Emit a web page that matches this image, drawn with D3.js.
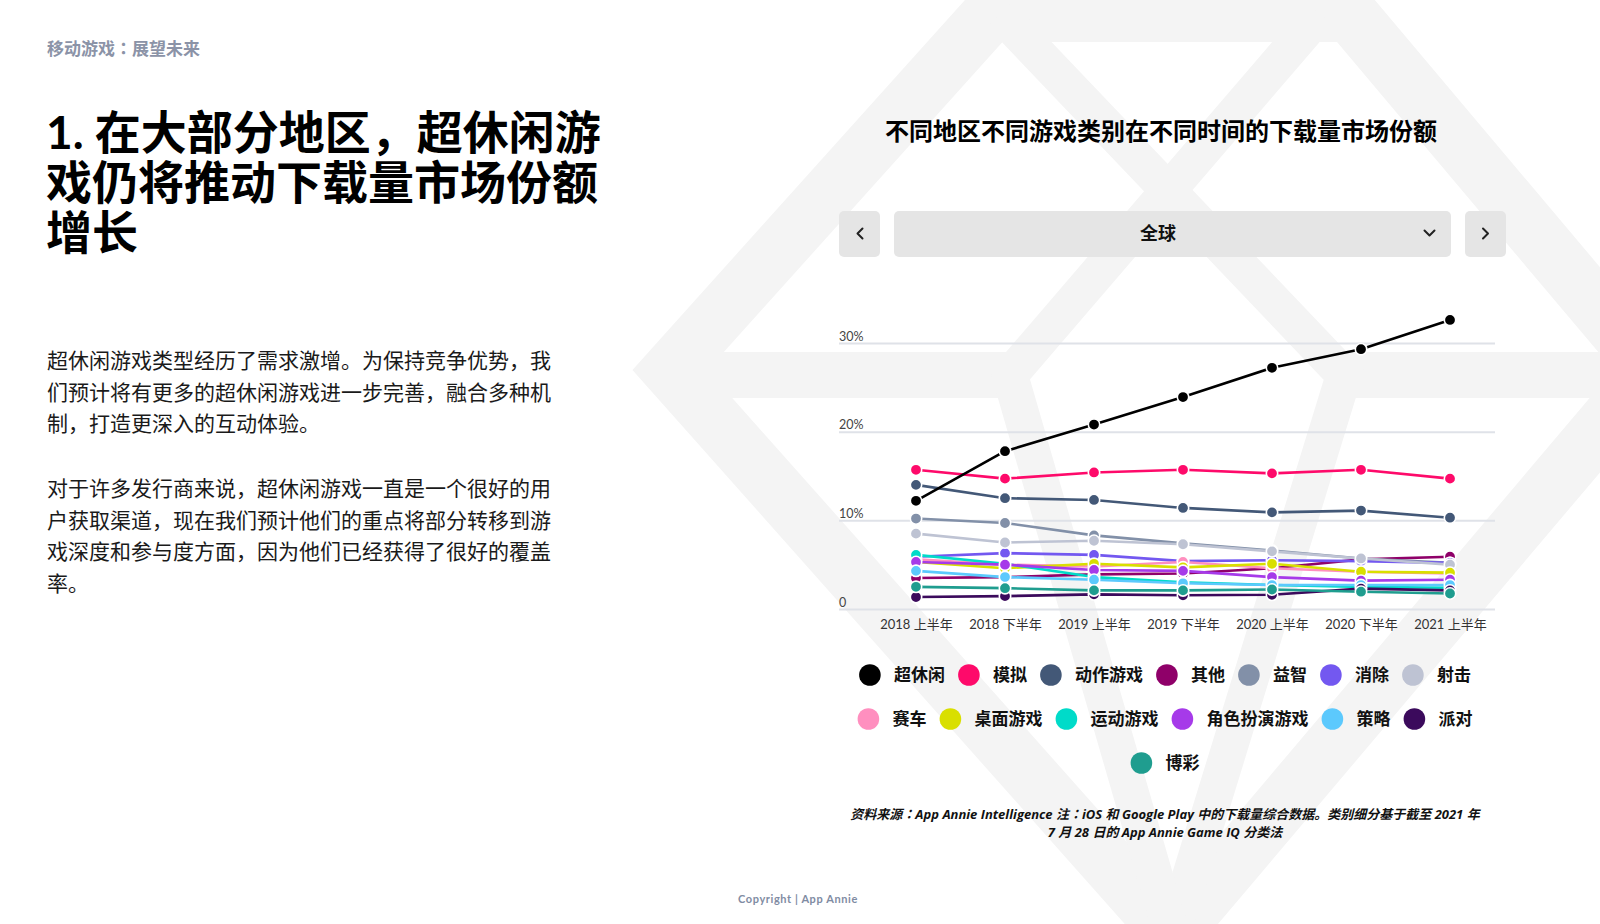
<!DOCTYPE html>
<html><head><meta charset="utf-8">
<script src="https://cdn.jsdelivr.net/npm/d3@7"></script>
<style>
html,body{margin:0;padding:0;background:#fff;}
svg{display:block;}
text{font-family:"Lato","Noto Sans CJK SC",sans-serif;}
tspan.pk{font-family:"Noto Sans CJK TC",sans-serif;}
</style></head><body>
<svg id="c" width="1600" height="924"></svg>
<script>
// ---------- data ----------
const periods = ["2018 上半年","2018 下半年","2019 上半年","2019 下半年","2020 上半年","2020 下半年","2021 上半年"];
const seriesNames = ["超休闲","模拟","动作游戏","其他","益智","消除","射击","赛车","桌面游戏","运动游戏","角色扮演游戏","策略","派对","博彩"];
const seriesColors = ["#000000","#fe0a6a","#435877","#8f0069","#8290a8","#7358f0","#bec3d3","#ff8fbf","#d9df00","#00dbc9","#a63ae9","#5cc9fd","#3b0a5c","#1f9d8f"];
const hyperCasual = [12.2, 17.8, 20.8, 23.9, 27.2, 29.3, 32.6];
const simulation  = [15.7, 14.7, 15.4, 15.7, 15.3, 15.7, 14.7];
const action      = [14.0, 12.5, 12.3, 11.4, 10.9, 11.1, 10.3];
const other       = [3.5, 3.6, 3.9, 4.0, 4.6, 5.6, 5.9];
const puzzle      = [10.2, 9.7, 8.3, 7.4, 6.6, 5.7, 5.2];
const match       = [5.9, 6.3, 6.1, 5.4, 5.5, 5.4, 5.2];
const shooter     = [8.5, 7.5, 7.7, 7.3, 6.5, 5.7, 5.0];
const racing      = [5.6, 5.0, 4.8, 5.3, 4.6, 4.2, 4.0];
const tabletop    = [5.3, 4.6, 5.1, 4.7, 5.1, 4.2, 4.1];
const sports      = [6.1, 5.1, 3.6, 3.0, 2.7, 2.5, 2.4];
const rpg         = [5.3, 5.0, 4.4, 4.3, 3.6, 3.2, 3.3];
const strategy    = [4.3, 3.6, 3.3, 2.9, 2.7, 2.7, 2.7];
const party       = [1.35, 1.45, 1.65, 1.55, 1.6, 2.3, 2.1];
const casino      = [2.5, 2.35, 2.1, 2.1, 2.2, 1.95, 1.75];
const seriesValues = [hyperCasual, simulation, action, other, puzzle, match, shooter, racing, tabletop, sports, rpg, strategy, party, casino];
const yTicks = [0, 10, 20, 30];
const yTickLabels = ["0", "10%", "20%", "30%"];
const legendRows = [[0,1,2,3,4,5,6],[7,8,9,10,11,12],[13]];

const headerText = "移动游戏：展望未来";
const titleLines = ["1. 在大部分地区，超休闲游","戏仍将推动下载量市场份额","增长"];
const para1 = ["超休闲游戏类型经历了需求激增。为保持竞争优势，我","们预计将有更多的超休闲游戏进一步完善，融合多种机","制，打造更深入的互动体验。"];
const para2 = ["对于许多发行商来说，超休闲游戏一直是一个很好的用","户获取渠道，现在我们预计他们的重点将部分转移到游","戏深度和参与度方面，因为他们已经获得了很好的覆盖","率。"];
const chartTitle = "不同地区不同游戏类别在不同时间的下载量市场份额";
const regionLabel = "全球";
const footLines = ["资料来源：App Annie Intelligence 注：iOS 和 Google Play 中的下载量综合数据。类别细分基于截至 2021 年","7 月 28 日的 App Annie Game IQ 分类法"];
const copyright = "Copyright | App Annie";

// ---------- helpers ----------
// full-width ： is set in a CJK face whose glyph sits in the middle of its cell
function punctText(textSel, str){
  textSel.text(null);
  str.split(/(：)/).forEach(p=>{
    if (p === "") return;
    const ts = textSel.append("tspan").text(p);
    if (p === "：") ts.attr("class","pk");
  });
}

// ---------- drawing ----------
const svg = d3.select("#c");
const L = d3.line();

// watermark gem
const wm = svg.append("g").attr("fill","none").attr("stroke","#f4f4f4").attr("stroke-linejoin","miter").attr("stroke-miterlimit",10);
wm.append("path").attr("d", L([[990,14],[1350,14],[1650,370],[1172,935],[670,370]]) + "Z").attr("stroke-width",56);
wm.append("path").attr("d", L([[680,375],[1013,375]])).attr("stroke-width",46);
wm.append("path").attr("d", L([[1340,375],[1640,375]])).attr("stroke-width",46);
wm.append("path").attr("d", L([[1000,14],[1344,375],[1172,935]])).attr("stroke-width",36);
wm.append("path").attr("d", L([[1320,14],[1010,375],[1172,935]])).attr("stroke-width",36);

// left text
svg.append("text").attr("x",47).attr("y",54.5).attr("font-size",17).attr("font-weight",700)
  .attr("fill","#8b93a7").call(s=>punctText(s, headerText));
svg.append("g").selectAll("text").data(titleLines).join("text")
  .attr("x",46).attr("y",(d,i)=>149+i*50).attr("font-size",46).attr("font-weight",700)
  .attr("fill","#000").text(d=>d);
svg.append("g").selectAll("text").data(para1).join("text")
  .attr("x",47).attr("y",(d,i)=>368+i*31.6).attr("font-size",21).attr("fill","#1a1a1a").text(d=>d);
svg.append("g").selectAll("text").data(para2).join("text")
  .attr("x",47).attr("y",(d,i)=>496+i*31.6).attr("font-size",21).attr("fill","#1a1a1a").text(d=>d);

// chart title
svg.append("text").attr("x",1161).attr("y",140).attr("text-anchor","middle")
  .attr("font-size",24).attr("font-weight",700).attr("fill","#000").text(chartTitle);

// nav bar
const nav = svg.append("g");
nav.append("rect").attr("x",839).attr("y",211).attr("width",41).attr("height",46).attr("rx",5).attr("fill","#e5e5e5");
nav.append("rect").attr("x",894).attr("y",211).attr("width",557).attr("height",46).attr("rx",5).attr("fill","#e5e5e5");
nav.append("rect").attr("x",1465).attr("y",211).attr("width",41).attr("height",46).attr("rx",5).attr("fill","#e5e5e5");
nav.append("text").attr("x",1158).attr("y",240).attr("text-anchor","middle").attr("font-size",18)
  .attr("font-weight",700).attr("fill","#111").text(regionLabel);
const chev = nav.append("g").attr("fill","none").attr("stroke","#222").attr("stroke-width",2).attr("stroke-linecap","round").attr("stroke-linejoin","round");
chev.append("path").attr("d",L([[862.5,228.5],[857.5,233.5],[862.5,238.5]]));
chev.append("path").attr("d",L([[1483,228.5],[1488,233.5],[1483,238.5]]));
chev.append("path").attr("d",L([[1424.5,230.5],[1429.5,235.5],[1434.5,230.5]]));

// scales
const x = d3.scalePoint(periods, [916, 1450]);
const y = d3.scaleLinear([0, 30], [609, 343]);

// y grid
const gy = svg.append("g").attr("transform","translate(839,0)")
  .call(d3.axisRight(y).tickValues(yTicks).tickSize(656).tickFormat(d=>yTickLabels[yTicks.indexOf(d)]));
gy.select(".domain").remove();
gy.selectAll(".tick line").attr("stroke","#dfe2e8").attr("stroke-width",2);
gy.selectAll(".tick text").attr("x",0).attr("y",-3).attr("dy",0).attr("text-anchor","start")
  .attr("font-size",12.5).attr("fill","#444").style("font-family",'"Lato","Noto Sans CJK SC",sans-serif');

// x axis
const gx = svg.append("g").attr("transform","translate(0,609)")
  .call(d3.axisBottom(x).tickSize(0));
gx.select(".domain").remove();
gx.selectAll(".tick text").attr("y",20).attr("dy",0).attr("font-size",13).attr("fill","#333")
  .style("font-family",'"Lato","Noto Sans CJK SC",sans-serif');

// series
const line = d3.line().x((d,i)=>x(periods[i])).y(d=>y(d));
const order = d3.range(1, seriesNames.length).concat([0]);
const plot = svg.append("g");
order.forEach(si=>{
  const g = plot.append("g");
  g.append("path").datum(seriesValues[si]).attr("d",line).attr("fill","none")
    .attr("stroke",seriesColors[si]).attr("stroke-width",2.6).attr("stroke-linejoin","round");
  g.selectAll("circle").data(seriesValues[si]).join("circle")
    .attr("cx",(d,i)=>x(periods[i])).attr("cy",d=>y(d)).attr("r",5.7)
    .attr("fill",seriesColors[si]).attr("stroke","#fff").attr("stroke-width",1.6);
});

// legend
const lg = svg.append("g");
const rowY = [675, 719, 763];
const R = 10.8, GAP = 24, CX = 1165;
legendRows.forEach((row, ri)=>{
  const gRow = lg.append("g");
  const items = row.map(si=>{
    const t = gRow.append("text").attr("font-size",17).attr("font-weight",700).attr("fill","#111")
      .attr("y", rowY[ri] + 6).text(seriesNames[si]);
    return {si, t, w: t.node().getComputedTextLength()};
  });
  const W = R + d3.sum(items, d=>GAP + d.w) + GAP*(items.length-1);
  let c = CX - W/2 + R;
  items.forEach(it=>{
    gRow.append("circle").attr("cx",c).attr("cy",rowY[ri]).attr("r",R).attr("fill",seriesColors[it.si]);
    it.t.attr("x", c + GAP);
    c = c + GAP + it.w + GAP;
  });
});

// footnote
svg.append("g").selectAll("text").data(footLines).join("text")
  .attr("x",1165).attr("y",(d,i)=>819+i*17.5).attr("text-anchor","middle")
  .style("font-family",'"Open Sans","Noto Sans CJK SC",sans-serif')
  .attr("font-size",13).attr("font-weight",700).attr("font-style","italic").attr("fill","#111")
  .each(function(d){ punctText(d3.select(this), d); });

// copyright
svg.append("text").attr("x",798).attr("y",903).attr("text-anchor","middle").attr("font-size",11)
  .attr("font-weight",700).attr("letter-spacing",0.6).attr("fill","#7f8ca3").text(copyright);
</script>
</body></html>
